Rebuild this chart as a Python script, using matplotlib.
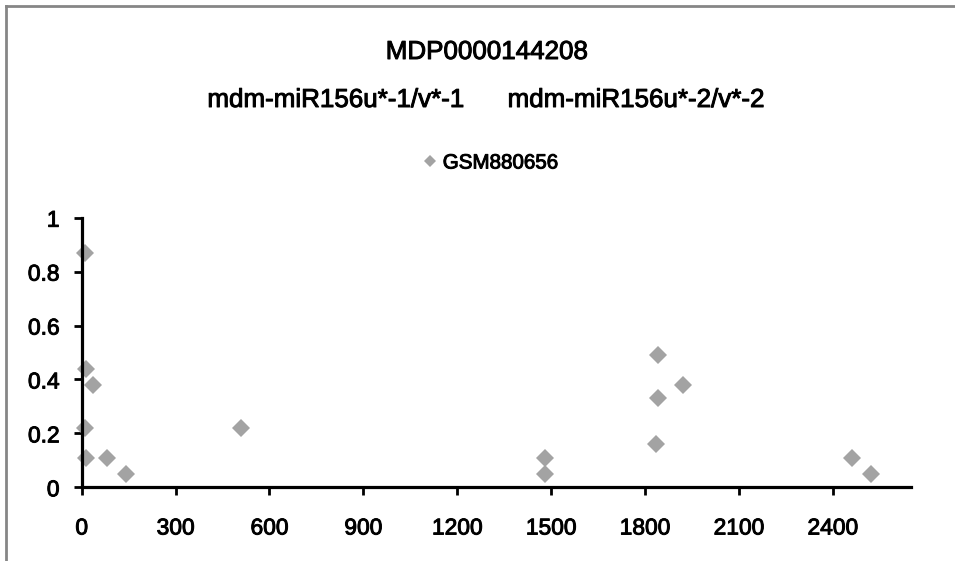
import matplotlib
matplotlib.use("Agg")
import matplotlib.pyplot as plt
import matplotlib.patheffects as pe
from matplotlib.lines import Line2D

plt.rcParams["font.family"] = ["Liberation Sans", "DejaVu Sans"]

# data
positions = [10, 13, 37, 10, 13, 81, 140, 510, 1481, 1481, 1840, 1842, 1920, 1835, 2463, 2522]
values = [0.87, 0.44, 0.38, 0.22, 0.11, 0.11, 0.05, 0.22, 0.11, 0.05, 0.49, 0.33, 0.38, 0.16, 0.11, 0.05]
series_name = "GSM880656"
x_ticks = [0, 300, 600, 900, 1200, 1500, 1800, 2100, 2400]
y_ticks = [0, 0.2, 0.4, 0.6, 0.8, 1]
y_tick_labels = ["0", "0.2", "0.4", "0.6", "0.8", "1"]

W, H = 955, 561
fig = plt.figure(figsize=(W / 100, H / 100), dpi=100)
fig.patch.set_facecolor("white")

# slight stroke so the text looks as heavy as in the reference
heavy = [pe.withStroke(linewidth=0.7, foreground="black")]

# gray frame of the chart area (left and top edges visible)
border = "#868686"
fig.add_artist(Line2D([6 / W, 6 / W], [0, 1 - 6 / H], transform=fig.transFigure,
                      color=border, lw=2))
fig.add_artist(Line2D([6 / W, 1], [1 - 6 / H, 1 - 6 / H], transform=fig.transFigure,
                      color=border, lw=2))

ax = fig.add_axes([81.7 / W, 1 - 487.3 / H, (911 - 81.7) / W, (487.3 - 217.7) / H])
line, = ax.plot(positions, values, linestyle="none", marker="D", markersize=9,
                color="#a3a3a3", markeredgewidth=0, clip_on=False, label=series_name)

ax.set_xlim(0, 2650)
ax.set_ylim(0, 1)
ax.set_xticks(x_ticks)
ax.set_yticks(y_ticks)
ax.set_yticklabels(y_tick_labels)

for side in ["top", "right"]:
    ax.spines[side].set_visible(False)
for side in ["left", "bottom"]:
    ax.spines[side].set_linewidth(2.3)
    ax.spines[side].set_color("black")

ax.tick_params(axis="both", direction="out", length=6, width=2, color="black",
               labelsize=16.4)
ax.tick_params(axis="x", pad=15)
ax.tick_params(axis="y", pad=10)
for lbl in ax.get_xticklabels() + ax.get_yticklabels():
    lbl.set_path_effects(heavy)

fig.text(487 / W, 1 - 52 / H, "MDP0000144208", ha="center", va="center",
         fontsize=18.7, path_effects=heavy)
fig.text(486 / W, 1 - 100 / H, "mdm-miR156u*-1/v*-1      mdm-miR156u*-2/v*-2",
         ha="center", va="center", fontsize=18.7, path_effects=heavy)

leg = fig.legend(handles=[line], loc="center", bbox_to_anchor=(491 / W, 1 - 163 / H),
                 frameon=False, fontsize=14.8, markerscale=0.65, handlelength=0.6,
                 handletextpad=0.3, borderpad=0)
for t in leg.get_texts():
    t.set_path_effects(heavy)

fig.savefig("out.png", dpi=100, facecolor="white")
